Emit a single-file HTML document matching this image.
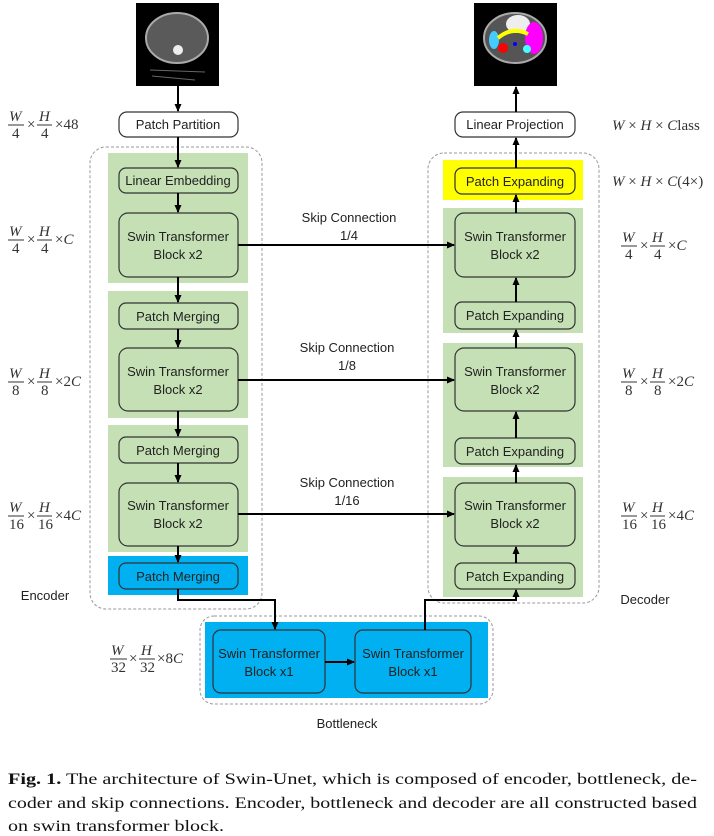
<!DOCTYPE html>
<html><head><meta charset="utf-8"><style>
html,body{margin:0;padding:0;background:#fff;}
svg{display:block;}
.b{font-family:"Liberation Sans",sans-serif;font-size:13px;fill:#222;}
.m{font-family:"Liberation Serif",serif;font-size:15px;fill:#333;}
.mi{font-style:italic;}
.cap{font-family:"Liberation Serif",serif;font-size:16px;fill:#111;}
</style></head><body>
<svg width="714" height="836" viewBox="0 0 714 836" xmlns="http://www.w3.org/2000/svg">
<defs>
<marker id="a" markerWidth="8" markerHeight="8" refX="7" refY="4" orient="auto" markerUnits="userSpaceOnUse">
<path d="M0,0.5 L8,4 L0,7.5 z" fill="#000"/></marker>
</defs>
<rect x="136" y="3" width="83" height="83" fill="#000"/>
<ellipse cx="177" cy="38" rx="31" ry="25" fill="#5a5a5a" stroke="#aaa" stroke-width="2"/>
<circle cx="178" cy="50" r="5" fill="#eee"/>
<path d="M150,70 L205,72 M152,76 L195,80" stroke="#666" stroke-width="1"/>
<rect x="474" y="3" width="83" height="83" fill="#000"/>
<ellipse cx="515" cy="38" rx="31" ry="25" fill="#555" stroke="#aaa" stroke-width="2"/>
<ellipse cx="518" cy="24" rx="12" ry="9" fill="#eee"/>
<ellipse cx="534" cy="38" rx="9" ry="16" fill="#f0f"/>
<ellipse cx="494" cy="40" rx="5" ry="9" fill="#4cf"/>
<path d="M498,38 Q512,26 528,34" stroke="#ff0" stroke-width="4" fill="none"/>
<ellipse cx="503" cy="48" rx="5" ry="5" fill="#f00"/>
<ellipse cx="527" cy="49" rx="4" ry="4" fill="#4ff"/>
<circle cx="515" cy="44" r="2" fill="#00f"/>
<rect x="90" y="147" width="172" height="462" rx="16" fill="none" stroke="#999" stroke-dasharray="3,2" stroke-width="1"/>
<rect x="428" y="153" width="171" height="450" rx="16" fill="none" stroke="#999" stroke-dasharray="3,2" stroke-width="1"/>
<rect x="200" y="616" width="293" height="88" rx="14" fill="none" stroke="#999" stroke-dasharray="3,2" stroke-width="1"/>
<rect x="108" y="153" width="140" height="130" fill="#c5e0b4"/>
<rect x="108" y="291" width="140" height="127" fill="#c5e0b4"/>
<rect x="108" y="425" width="140" height="127" fill="#c5e0b4"/>
<rect x="108" y="556" width="140" height="39" fill="#00b0f0"/>
<rect x="443" y="160" width="140" height="40" fill="#ffff00"/>
<rect x="443" y="208" width="140" height="125" fill="#c5e0b4"/>
<rect x="443" y="343" width="140" height="124" fill="#c5e0b4"/>
<rect x="443" y="477" width="140" height="120" fill="#c5e0b4"/>
<rect x="205" y="622" width="283" height="76" fill="#00b0f0"/>
<g stroke="#333" stroke-width="1.2">
<rect x="119" y="112" width="119" height="25" rx="8" fill="#fff"/>
<rect x="119" y="168" width="119" height="25" rx="7" fill="#c5e0b4"/>
<rect x="119" y="213" width="119" height="64" rx="9" fill="#c5e0b4"/>
<rect x="119" y="303" width="119" height="26" rx="7" fill="#c5e0b4"/>
<rect x="119" y="348" width="119" height="63" rx="9" fill="#c5e0b4"/>
<rect x="119" y="437" width="119" height="26" rx="7" fill="#c5e0b4"/>
<rect x="119" y="483" width="119" height="63" rx="9" fill="#c5e0b4"/>
<rect x="119" y="563" width="119" height="26" rx="7" fill="#00b0f0"/>
<rect x="455" y="112" width="120" height="25" rx="8" fill="#fff"/>
<rect x="455" y="168" width="120" height="26" rx="7" fill="#ffff00"/>
<rect x="455" y="213" width="120" height="64" rx="9" fill="#c5e0b4"/>
<rect x="455" y="302" width="120" height="27" rx="7" fill="#c5e0b4"/>
<rect x="455" y="348" width="120" height="63" rx="9" fill="#c5e0b4"/>
<rect x="455" y="438" width="120" height="26" rx="7" fill="#c5e0b4"/>
<rect x="455" y="483" width="120" height="63" rx="9" fill="#c5e0b4"/>
<rect x="455" y="563" width="120" height="26" rx="7" fill="#c5e0b4"/>
<rect x="213" y="630" width="112" height="63" rx="8" fill="#00b0f0"/>
<rect x="355" y="630" width="116" height="63" rx="8" fill="#00b0f0"/>
</g>
<g stroke="#000" stroke-width="2" fill="none" marker-end="url(#a)">
<path d="M178,86 V111"/><path d="M178,137 V167"/><path d="M178,193 V212"/>
<path d="M178,277 V302"/><path d="M178,329 V347"/><path d="M178,411 V436"/>
<path d="M178,463 V482"/><path d="M178,546 V562"/>
<path d="M516,112 V87"/><path d="M516,168 V138"/><path d="M516,213 V195"/>
<path d="M516,302 V278"/><path d="M516,348 V330"/><path d="M516,438 V412"/>
<path d="M516,483 V465"/><path d="M516,563 V547"/>
<path d="M238,245 H454"/><path d="M238,380 H454"/><path d="M238,514 H454"/>
<path d="M178,589 V600 H275 V629"/>
<path d="M325,662 H354"/>
<path d="M425,630 V600 H516 V590"/>
</g>
<g class="b" text-anchor="middle">
<text x="178" y="129">Patch Partition</text>
<text x="178" y="185">Linear Embedding</text>
<text x="178" y="241">Swin Transformer</text><text x="178" y="259">Block x2</text>
<text x="178" y="321">Patch Merging</text>
<text x="178" y="376">Swin Transformer</text><text x="178" y="394">Block x2</text>
<text x="178" y="455">Patch Merging</text>
<text x="178" y="510">Swin Transformer</text><text x="178" y="528">Block x2</text>
<text x="178" y="581">Patch Merging</text>
<text x="515" y="129">Linear Projection</text>
<text x="515" y="186">Patch Expanding</text>
<text x="515" y="241">Swin Transformer</text><text x="515" y="259">Block x2</text>
<text x="515" y="320">Patch Expanding</text>
<text x="515" y="376">Swin Transformer</text><text x="515" y="394">Block x2</text>
<text x="515" y="456">Patch Expanding</text>
<text x="515" y="510">Swin Transformer</text><text x="515" y="528">Block x2</text>
<text x="515" y="581">Patch Expanding</text>
<text x="269" y="658">Swin Transformer</text><text x="269" y="676">Block x1</text>
<text x="413" y="658">Swin Transformer</text><text x="413" y="676">Block x1</text>
<text x="349" y="222">Skip Connection</text><text x="349" y="240">1/4</text>
<text x="347" y="352">Skip Connection</text><text x="347" y="370">1/8</text>
<text x="347" y="487">Skip Connection</text><text x="347" y="505">1/16</text>
<text x="45" y="600">Encoder</text>
<text x="645" y="604">Decoder</text>
<text x="347" y="728">Bottleneck</text>
</g>
<g class="m">
<g transform="translate(8,125)">
<text class="mi" x="1" y="-4">W</text><line x1="0" y1="0" x2="16" y2="0" stroke="#333"/><text x="4" y="13">4</text>
<text x="19" y="4">×</text>
<text class="mi" x="31" y="-4">H</text><line x1="29" y1="0" x2="44" y2="0" stroke="#333"/><text x="33" y="13">4</text>
<text x="47" y="4">×48</text></g>
<g transform="translate(8,240)">
<text class="mi" x="1" y="-4">W</text><line x1="0" y1="0" x2="16" y2="0" stroke="#333"/><text x="4" y="13">4</text>
<text x="19" y="4">×</text>
<text class="mi" x="31" y="-4">H</text><line x1="29" y1="0" x2="44" y2="0" stroke="#333"/><text x="33" y="13">4</text>
<text x="47" y="4">×<tspan class="mi">C</tspan></text></g>
<g transform="translate(8,382)">
<text class="mi" x="1" y="-4">W</text><line x1="0" y1="0" x2="16" y2="0" stroke="#333"/><text x="4" y="13">8</text>
<text x="19" y="4">×</text>
<text class="mi" x="31" y="-4">H</text><line x1="29" y1="0" x2="44" y2="0" stroke="#333"/><text x="33" y="13">8</text>
<text x="47" y="4">×2<tspan class="mi">C</tspan></text></g>
<g transform="translate(8,516)">
<text class="mi" x="1" y="-4">W</text><line x1="0" y1="0" x2="16" y2="0" stroke="#333"/><text x="1" y="13">16</text>
<text x="19" y="4">×</text>
<text class="mi" x="31" y="-4">H</text><line x1="29" y1="0" x2="44" y2="0" stroke="#333"/><text x="30" y="13">16</text>
<text x="47" y="4">×4<tspan class="mi">C</tspan></text></g>
<g transform="translate(110,659)">
<text class="mi" x="1" y="-4">W</text><line x1="0" y1="0" x2="17" y2="0" stroke="#333"/><text x="1" y="13">32</text>
<text x="19" y="4">×</text>
<text class="mi" x="31" y="-4">H</text><line x1="29" y1="0" x2="45" y2="0" stroke="#333"/><text x="30" y="13">32</text>
<text x="47" y="4">×8<tspan class="mi">C</tspan></text></g>
<text x="612" y="130"><tspan class="mi">W</tspan> × <tspan class="mi">H</tspan> × <tspan class="mi">C</tspan>lass</text>
<text x="612" y="186"><tspan class="mi">W</tspan> × <tspan class="mi">H</tspan> × <tspan class="mi">C</tspan>(4×)</text>
<g transform="translate(621,246)">
<text class="mi" x="1" y="-4">W</text><line x1="0" y1="0" x2="16" y2="0" stroke="#333"/><text x="4" y="13">4</text>
<text x="19" y="4">×</text>
<text class="mi" x="31" y="-4">H</text><line x1="29" y1="0" x2="44" y2="0" stroke="#333"/><text x="33" y="13">4</text>
<text x="47" y="4">×<tspan class="mi">C</tspan></text></g>
<g transform="translate(621,382)">
<text class="mi" x="1" y="-4">W</text><line x1="0" y1="0" x2="16" y2="0" stroke="#333"/><text x="4" y="13">8</text>
<text x="19" y="4">×</text>
<text class="mi" x="31" y="-4">H</text><line x1="29" y1="0" x2="44" y2="0" stroke="#333"/><text x="33" y="13">8</text>
<text x="47" y="4">×2<tspan class="mi">C</tspan></text></g>
<g transform="translate(621,516)">
<text class="mi" x="1" y="-4">W</text><line x1="0" y1="0" x2="16" y2="0" stroke="#333"/><text x="1" y="13">16</text>
<text x="19" y="4">×</text>
<text class="mi" x="31" y="-4">H</text><line x1="29" y1="0" x2="44" y2="0" stroke="#333"/><text x="30" y="13">16</text>
<text x="47" y="4">×4<tspan class="mi">C</tspan></text></g>
</g>
<text class="cap" x="8" y="784" textLength="689" lengthAdjust="spacingAndGlyphs"><tspan font-weight="bold">Fig. 1.</tspan> The architecture of Swin-Unet, which is composed of encoder, bottleneck, de-</text>
<text class="cap" x="8" y="808" textLength="689" lengthAdjust="spacingAndGlyphs">coder and skip connections. Encoder, bottleneck and decoder are all constructed based</text>
<text class="cap" x="8" y="831" textLength="216" lengthAdjust="spacingAndGlyphs">on swin transformer block.</text>
</svg>
</body></html>
